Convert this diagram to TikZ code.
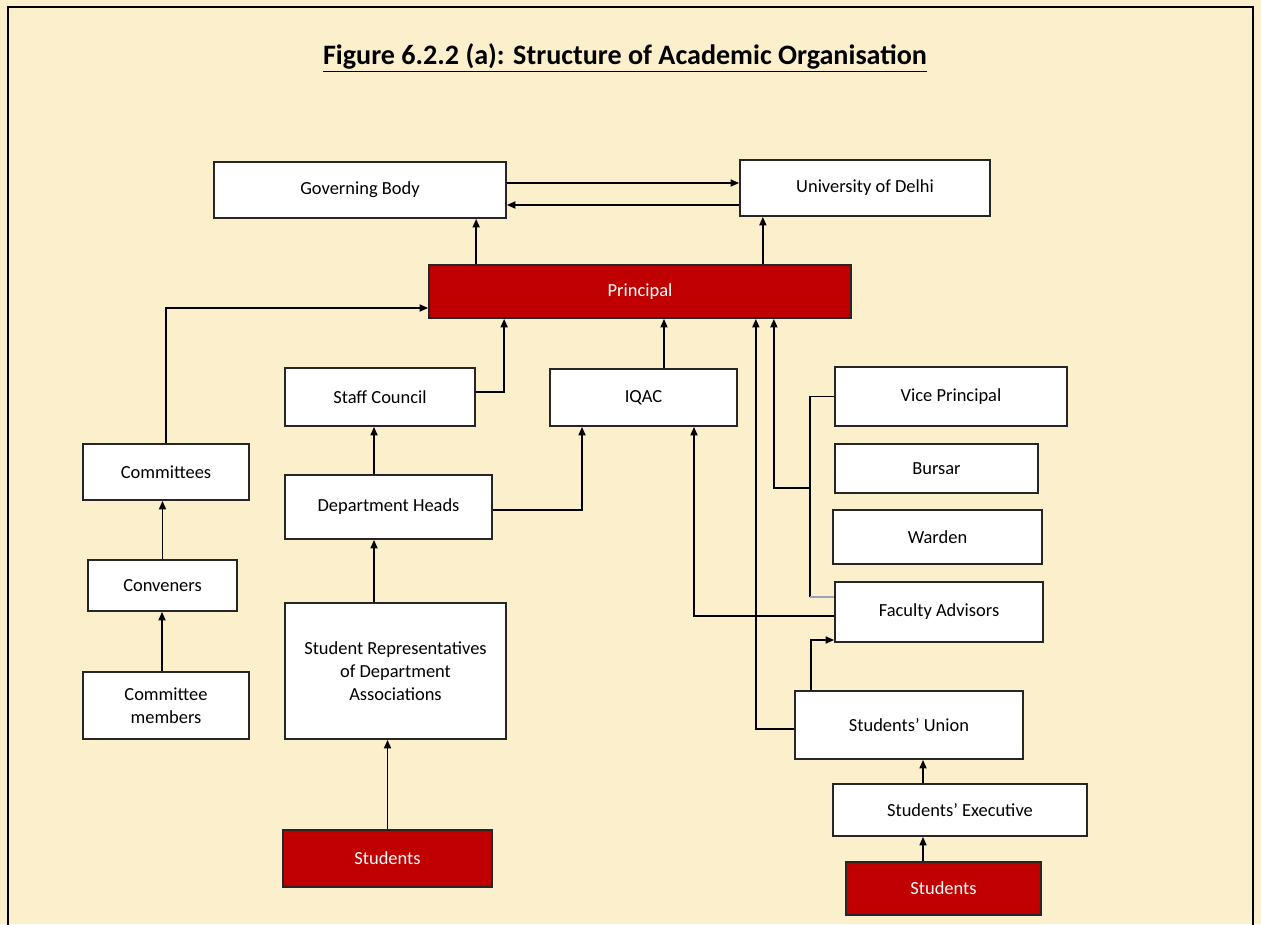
\documentclass[tikz,border=0pt]{standalone}
\usepackage{fontspec}
\setmainfont{Carlito}
\usepackage{tikz}
\usetikzlibrary{calc,arrows.meta}
\definecolor{paper}{RGB}{252,239,204}
\definecolor{boxred}{RGB}{192,0,0}
\tikzset{
	box/.style={draw=black!85, line width=1pt, fill=white, inner sep=0pt, align=center, font=\fontsize{10.5}{13}\selectfont},
	redbox/.style={box, fill=boxred, text=white},
	arr/.style={line width=0.95pt, -{Triangle[length=1.7mm,width=1.4mm]}},
	link/.style={line width=0.95pt}
}

\begin{document}
\begin{tikzpicture}[x=0.02cm, y=-0.02cm]
			%%%%% START %%%%%
			
			\useasboundingbox (0, 0) rectangle (1261, 924);
			\clip (0, 0) rectangle (1261, 924);
			\fill[paper] (0, 0) rectangle (1261, 924);
			\draw[line width=1.6pt] (8, 7) rectangle (1253, 940);
			
			\node[font=\fontsize{16}{20}\selectfont\bfseries] (title) at (625, 58) {\underline{Figure 6.2.2 (a): Structure of Academic Organisation}};
			
			% top row
			\node[box, minimum width=5.84cm, minimum height=1.12cm] (gov) at (360, 190) {Governing Body};
			\node[box, minimum width=5.0cm, minimum height=1.12cm] (delhi) at (865, 188) {University of Delhi};
			\node[redbox, minimum width=8.44cm, minimum height=1.06cm] (principal) at (640, 291.5) {Principal};
			
			% middle
			\node[box, minimum width=3.8cm, minimum height=1.16cm] (staff) at (380, 397) {Staff Council};
			\node[box, minimum width=3.74cm, minimum height=1.14cm] (iqac) at (643.5, 397.5) {IQAC};
			\node[box, minimum width=4.14cm, minimum height=1.28cm] (depthead) at (388.5, 507) {Department Heads};
			\node[box, minimum width=4.42cm, minimum height=2.72cm] (studrep) at (395.5, 671) {Student Representatives\\of Department\\Associations};
			\node[redbox, minimum width=4.18cm, minimum height=1.14cm] (studl) at (387.5, 858.5) {Students};
			
			% left column
			\node[box, minimum width=3.32cm, minimum height=1.12cm] (committees) at (166, 472) {Committees};
			\node[box, minimum width=2.98cm, minimum height=1.02cm] (conveners) at (162.5, 585.5) {Conveners};
			\node[box, minimum width=3.32cm, minimum height=1.34cm] (members) at (166, 705.5) {Committee\\members};
			
			% right column
			\node[box, minimum width=4.64cm, minimum height=1.18cm] (vice) at (951, 396.5) {Vice Principal};
			\node[box, minimum width=4.06cm, minimum height=0.98cm] (bursar) at (936.5, 468.5) {Bursar};
			\node[box, minimum width=4.18cm, minimum height=1.08cm] (warden) at (937.5, 537) {Warden};
			\node[box, minimum width=4.16cm, minimum height=1.2cm] (faculty) at (939, 612) {Faculty Advisors};
			\node[box, minimum width=4.56cm, minimum height=1.36cm] (union) at (909, 725) {Students’ Union};
			\node[box, minimum width=5.08cm, minimum height=1.04cm] (exec) at (960, 810) {Students’ Executive};
			\node[redbox, minimum width=3.9cm, minimum height=1.06cm] (studr) at (943.5, 888.5) {Students};
			
			% connectors
			\draw[arr] ([yshift=0.14cm]gov.east) -- ([yshift=0.14cm]gov.east -| delhi.west);
			\draw[arr] ([yshift=-0.34cm]delhi.west) -- ([yshift=-0.34cm]delhi.west -| gov.east);
			\draw[arr] ([xshift=0.96cm]principal.north west) -- ([xshift=0.96cm]principal.north west |- gov.south);
			\draw[arr] ([xshift=-1.78cm]principal.north east) -- ([xshift=-1.78cm]principal.north east |- delhi.south);
			
			\draw[arr] (committees.north) |- ([yshift=-0.33cm]principal.west);
			\draw[arr] ([yshift=0.1cm]staff.east) -| ([xshift=1.52cm]principal.south west);
			\draw[arr] ([xshift=0.41cm]iqac.north) -- ([xshift=0.41cm]iqac.north |- principal.south);
			\draw[arr] ([yshift=-0.08cm]union.west) -| ([xshift=-1.92cm]principal.south east);
			
			\coordinate (joint) at (810, 488);
			\draw[link] (vice.west) -| ([yshift=0.3cm]faculty.west -| joint);
			\draw[line width=0.95pt, color=blue!25!gray!60] ([yshift=0.3cm]faculty.west -| joint) -- ([yshift=0.3cm]faculty.west);
			\draw[arr] (joint) -| ([xshift=-1.56cm]principal.south east);
			
			\draw[arr] ([yshift=-0.08cm]faculty.west) -| ([xshift=1.01cm]iqac.south);
			\draw[arr] ([xshift=-1.96cm]union.north) |- ([yshift=-0.56cm]faculty.west);
			
			\draw[arr] ([xshift=-0.29cm]depthead.north) -- ([xshift=-0.29cm]depthead.north |- staff.south);
			\draw[arr] ([yshift=-0.06cm]depthead.east) -| ([xshift=-1.23cm]iqac.south);
			\draw[arr] ([xshift=-0.43cm]studrep.north) -- ([xshift=-0.43cm]studrep.north |- depthead.south);
			\draw[arr] (studl.north) -- (studl.north |- studrep.south);
			
			\draw[arr] (conveners.north) -- (conveners.north |- committees.south);
			\draw[arr] ([xshift=-0.08cm]members.north) -- ([xshift=-0.08cm]members.north |- conveners.south);
			
			\draw[arr] ([xshift=-0.74cm]exec.north) -- ([xshift=-0.74cm]exec.north |- union.south);
			\draw[arr] ([xshift=-0.41cm]studr.north) -- ([xshift=-0.41cm]studr.north |- exec.south);
			
			%%%%% END %%%%%
\end{tikzpicture}
\end{document}
